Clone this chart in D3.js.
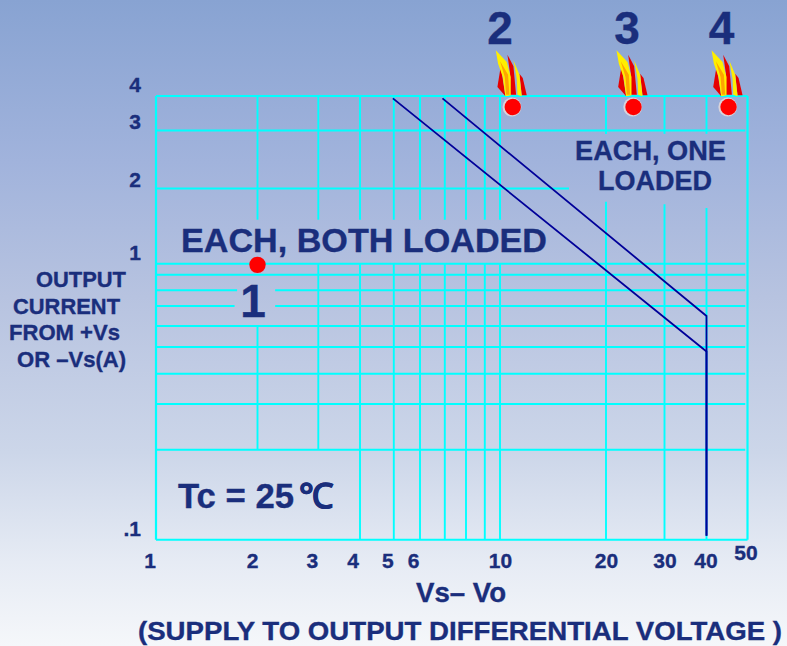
<!DOCTYPE html>
<html>
<head>
<meta charset="utf-8">
<script src="https://cdn.jsdelivr.net/npm/d3@7"></script>
<style>
html,body{margin:0;padding:0;background:#fff;}
svg{display:block;}
text{font-family:"Liberation Sans",Arial,sans-serif;font-weight:bold;fill:#1a2e7c;stroke:#1a2e7c;stroke-width:0.35px;}
</style>
</head>
<body>
<div id="chart"></div>
<script>
// ---- data ----
const xGridValues = [1,2,3,4,5,6,7,8,9,10,20,30,40,50];
const yGridValues = [0.1,0.2,0.3,0.4,0.5,0.6,0.7,0.8,0.9,1,2,3,4];
const xTickLabels = [1,2,3,4,5,6,10,20,30,40,50];
const yTickLabels = [0.1,1,2,3,4];
const curveOneLoaded = [[6.9,3.92],[40,0.648],[40,0.103]];
const curveBothLoaded = [[4.97,3.92],[40,0.4816],[40,0.103]];
const markerLabels = ["1","2","3","4"];
const markerX = [2,10.87,24.2,45.1];
const markerY = [0.99,3.65,3.65,3.65];
// vertical grid spans: [x, yFrom, yTo]
const verticalSpans = [
  [1,4,0.1],[50,4,0.1],
  [2,4,1.5],[2,0.6,0.2],
  [3,4,1.5],[3,1,0.2],
  [4,4,1.5],[4,1,0.1],
  [5,4,1.5],[5,1,0.1],
  [6,4,1.5],[6,1,0.1],
  [7,4,1.5],[7,1,0.1],
  [8,4,1.5],[8,1,0.1],
  [9,4,1.5],[9,1,0.1],
  [10,4,1.5],[10,1,0.1],
  [20,4,2.93],[20,1.77,0.1],
  [30,4,2.93],[30,1.73,0.1],
  [40,4,2.93],[40,1.67,0.1]
];
// horizontal grid spans: [y, xFrom, xTo]
const horizontalSpans = [
  [4,1,50],[3,1,49.4],[2,1,15.7],[1,1,49.4],[0.9,1,49.4],
  [0.8,1,1.74],[0.8,2.25,49.4],
  [0.7,1,1.71],[0.7,2.25,49.4],
  [0.6,1,49.4],[0.5,1,49.4],[0.4,1,49.4],[0.3,1,49.4],[0.2,1,49.4],[0.1,1,50]
];
const yTitleLines = ["OUTPUT","CURRENT","FROM +Vs","OR –Vs(A)"];
// flame outlines, relative to the marker, in thirds of a pixel
const flameShapes = [
  {fill:"#e60000",pts:[[-46,-60],[-36,-122],[-22,-32]]},
  {fill:"#e60000",pts:[[-16,-157],[2,-122],[10,-37],[-10,-37],[-8,-100]]},
  {fill:"#e60000",pts:[[20,-100],[30,-87],[42,-35],[27,-35]]},
  {fill:"#ffee00",pts:[[-51,-170],[-18,-135],[-6,-90],[-6,-35],[-22,-32],[-30,-90],[-44,-130]]},
  {fill:"#ffa500",pts:[[-38,-137],[-14,-97],[-10,-37],[-20,-37],[-24,-90]]},
  {fill:"#ffee00",pts:[[2,-140],[20,-97],[27,-32],[14,-37],[12,-85]]}
];

// ---- layout ----
const W = 787, H = 646;
const svg = d3.select("#chart").append("svg").attr("width",W).attr("height",H);

const defs = svg.append("defs");
const grad = defs.append("linearGradient").attr("id","bg").attr("x1",0).attr("x2",0).attr("y1",0).attr("y2",1);
[[0,"#88a3d2"],[0.25,"#a1b3dc"],[0.46,"#b7c3e0"],[0.7,"#ccd6e9"],[0.87,"#e6ebf4"],[1,"#f5f7fa"]]
  .forEach(s=>grad.append("stop").attr("offset",s[0]).attr("stop-color",s[1]));
svg.append("rect").attr("width",W).attr("height",H).attr("fill","url(#bg)");

const x = d3.scaleLog()
  .domain(xGridValues)
  .range([156,257.5,318.3,360,393.8,420,444.8,466,484.8,500,606,664.5,706.5,747.5]);
const y = d3.scaleLog()
  .domain(yGridValues)
  .range([539.7,449.7,404,373.8,347,326,306,290.3,274.7,263.8,188.5,130.5,96]);

// grid
const grid = svg.append("g").attr("stroke","#00ffff").attr("stroke-width",1.9);
grid.selectAll("line.h").data(horizontalSpans).join("line").attr("class","h")
  .attr("x1",d=>x(d[1])).attr("x2",d=>x(d[2])).attr("y1",d=>y(d[0])).attr("y2",d=>y(d[0]));
grid.selectAll("line.v").data(verticalSpans).join("line").attr("class","v")
  .attr("x1",d=>x(d[0])).attr("x2",d=>x(d[0])).attr("y1",d=>y(d[1])).attr("y2",d=>y(d[2]))
  .attr("stroke-width",d=>(d[0]===1||d[0]===50)?2.2:1.9);

// curves
const line = d3.line().x(d=>x(d[0])).y(d=>y(d[1]));
svg.selectAll("path.curve").data([curveOneLoaded,curveBothLoaded]).join("path").attr("class","curve")
  .attr("d",line).attr("fill","none").attr("stroke","#000099").attr("stroke-width",1.8);

// axes
const axX = svg.append("g").attr("transform",`translate(0,${y(0.1)})`)
  .call(d3.axisBottom(x).tickValues(xTickLabels).tickFormat(d3.format("d")).tickSize(0));
axX.select(".domain").remove();
axX.selectAll("text")
  .attr("font-size",21).attr("font-family",null)
  .attr("dy",null)
  .attr("y",d=>d===50?20.5:28.5)
  .attr("x",d=>d===1||d===3?-6.5:(d===4?-7.5:(d===2?-5.5:(d===5?-6.5:(d===6?-7:(d===40?-1:(d===50?-2:0)))))));

const axY = svg.append("g").attr("transform",`translate(${x(1)},0)`)
  .call(d3.axisLeft(y).tickValues(yTickLabels).tickFormat(d=>d<1?".1":String(d)).tickSize(0));
axY.select(".domain").remove();
axY.selectAll("text")
  .attr("font-size",21)
  .attr("dy",null)
  .attr("x",-15)
  .attr("y",d=>d===4?-5:(d===3?-2:(d===2?-2.5:(d===1?-4:-4))));

// flames + markers (2,3,4 have flames)
const flameLine = d3.line().x(d=>d[0]/3).y(d=>d[1]/3).curve(d3.curveLinearClosed);
const markers = svg.selectAll("g.marker").data(markerLabels.map((l,i)=>({l,x:markerX[i],y:markerY[i],i})))
  .join("g").attr("class","marker")
  .attr("transform",d=>`translate(${x(d.x)},${y(d.y)})`);
markers.filter(d=>d.i>0).each(function(){
  d3.select(this).selectAll("path").data(flameShapes).join("path")
    .attr("d",s=>flameLine(s.pts)).attr("fill",s=>s.fill);
  d3.select(this).append("circle").attr("r",9.4).attr("cx",-0.8).attr("fill","#d9d3da");
});
markers.append("circle").attr("r",8.2).attr("fill","#ff0000");

// big marker numbers
const bigText = [
  {t:markerLabels[0],x:253,y:317},
  {t:markerLabels[1],x:500,y:44},
  {t:markerLabels[2],x:627,y:44},
  {t:markerLabels[3],x:721.5,y:44}
];
svg.selectAll("text.big").data(bigText).join("text").attr("class","big")
  .attr("x",d=>d.x).attr("y",d=>d.y).attr("text-anchor","middle").attr("font-size",46).text(d=>d.t);

// annotations
function label(t,xp,yp,size,anchor,len){
  const s = svg.append("text").attr("x",xp).attr("y",yp).attr("font-size",size)
    .attr("text-anchor",anchor||"start").text(t);
  if(len) s.attr("textLength",len).attr("lengthAdjust","spacingAndGlyphs");
  return s;
}
label("EACH, BOTH LOADED",181,252,33.5,"start",366);
label("EACH, ONE",575,160,27.5,"start",151);
label("LOADED",598,190,27.5,"start",114);
label("Tc = 25",178,508,35,"start",116);
svg.append("text").attr("x",299).attr("y",508).attr("font-size",34.5).text("℃");
label("Vs– Vo",416,602,27,"start",90);
label("(SUPPLY TO OUTPUT DIFFERENTIAL VOLTAGE )",138,640,26,"start",644);

// y title
const yTitlePos = [[36,287,90],[13,314,107],[9,340,111],[17,367,109]];
svg.selectAll("text.yt").data(yTitleLines).join("text").attr("class","yt")
  .attr("x",(d,i)=>yTitlePos[i][0]).attr("y",(d,i)=>yTitlePos[i][1])
  .attr("font-size",21.5).attr("textLength",(d,i)=>yTitlePos[i][2]).attr("lengthAdjust","spacingAndGlyphs")
  .text(d=>d);
</script>
</body>
</html>
